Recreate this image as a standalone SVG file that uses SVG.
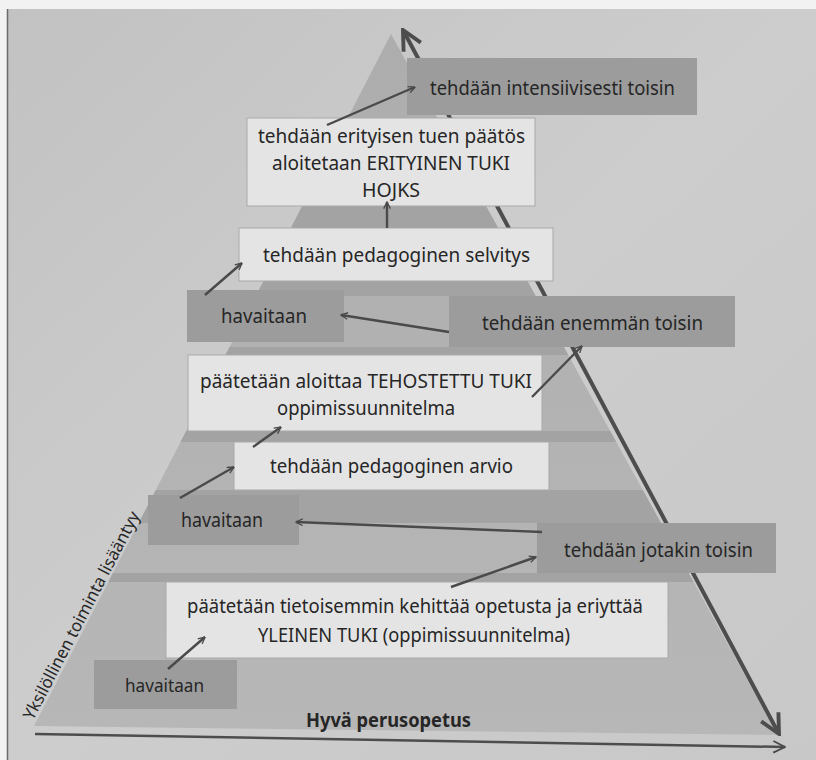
<svg xmlns="http://www.w3.org/2000/svg" width="816" height="760" viewBox="0 0 816 760">
  <style>
    .lbl { font-family: "Noto Sans", "Open Sans", sans-serif; font-size: 20px; fill: #262626; }
    .sm { font-size: 18px; }
    .mid { font-size: 19px; }
    .rot { font-size: 17px; }
    .dark { fill: #9c9c9c; }
    .white { fill: #e4e4e4; stroke: #a9a9a9; stroke-width: 1; }
    .conn { stroke: #4a4a4a; stroke-width: 2.4; fill: none; marker-end: url(#chev); }
    .big { stroke: #4d4d4d; stroke-width: 4; fill: none; }
  </style>
  <defs>
    <linearGradient id="pyr" x1="0" y1="0" x2="0" y2="1">
      <stop offset="0" stop-color="#adadad"/>
      <stop offset="1" stop-color="#b7b7b7"/>
    </linearGradient>
    <linearGradient id="pg" x1="0" y1="0" x2="1" y2="1">
      <stop offset="0" stop-color="#c2c2c2"/>
      <stop offset="0.5" stop-color="#cdcdcd"/>
      <stop offset="1" stop-color="#c8c8c8"/>
    </linearGradient>
    <clipPath id="pyrclip">
      <polygon points="391,34 34,726 778,735"/>
    </clipPath>
    <marker id="chev" viewBox="0 0 12 12" refX="11" refY="6" markerWidth="8" markerHeight="8" markerUnits="userSpaceOnUse" orient="auto">
      <path d="M1,1 L11,6 L1,11" fill="none" stroke="#4a4a4a" stroke-width="2"/>
    </marker>
    <marker id="chevs" viewBox="0 0 12 12" refX="11" refY="6" markerWidth="14" markerHeight="14" markerUnits="userSpaceOnUse" orient="auto">
      <path d="M1,1 L11,6 L1,11" fill="none" stroke="#4a4a4a" stroke-width="1.6"/>
    </marker>
    <marker id="bigh" viewBox="0 0 12 12" refX="11" refY="6" markerWidth="26" markerHeight="26" markerUnits="userSpaceOnUse" orient="auto-start-reverse">
      <path d="M2,1.5 L11,6 L2,10.5" fill="none" stroke="#4d4d4d" stroke-width="1.8"/>
    </marker>
  </defs>

  <!-- page -->
  <rect x="0" y="0" width="816" height="760" fill="#f2f2f2"/>
  <rect x="7" y="9" width="809" height="751" fill="url(#pg)"/>
  <line x1="7.5" y1="9" x2="7.5" y2="760" stroke="#6a6a6a" stroke-width="1.5"/>

  <!-- pyramid -->
  <g id="pyramid">
    <polygon points="391,34 34,726 778,735" fill="url(#pyr)"/>
    <g clip-path="url(#pyrclip)" fill="#a3a3a3">
      <rect x="0" y="206" width="816" height="22"/>
      <rect x="0" y="281" width="816" height="15"/>
      <rect x="0" y="347" width="816" height="8"/>
      <rect x="0" y="431" width="816" height="11"/>
      <rect x="0" y="490" width="816" height="33"/>
      <rect x="0" y="573" width="816" height="9"/>
    </g>
  </g>

  <!-- axes -->
  <g id="axes">
    <line x1="403" y1="30" x2="779" y2="734" class="big" marker-start="url(#bigh)" marker-end="url(#bigh)"/>
    <line x1="35" y1="734" x2="785" y2="747" stroke="#4d4d4d" stroke-width="2.5" marker-end="url(#chevs)"/>
  </g>

  <!-- nodes -->
  <g id="n-intensiivisesti">
    <rect x="407" y="58" width="290" height="57" class="dark"/>
    <text class="lbl" x="430" y="95" textLength="245" lengthAdjust="spacingAndGlyphs">tehdään intensiivisesti toisin</text>
  </g>
  <g id="n-erityinen">
    <rect x="247" y="118" width="288" height="88" class="white"/>
    <text class="lbl" x="258" y="143" textLength="267" lengthAdjust="spacingAndGlyphs">tehdään erityisen tuen päätös</text>
    <text class="lbl" x="272" y="170" textLength="238" lengthAdjust="spacingAndGlyphs">aloitetaan ERITYINEN TUKI</text>
    <text class="lbl" x="362" y="197" textLength="58" lengthAdjust="spacingAndGlyphs">HOJKS</text>
  </g>
  <g id="n-selvitys">
    <rect x="239" y="228" width="314" height="53" class="white"/>
    <text class="lbl" x="263" y="262" textLength="267" lengthAdjust="spacingAndGlyphs">tehdään pedagoginen selvitys</text>
  </g>
  <g id="n-havaitaan-3">
    <rect x="187" y="290" width="157" height="52" class="dark"/>
    <text class="lbl" x="221" y="323" textLength="86" lengthAdjust="spacingAndGlyphs">havaitaan</text>
  </g>
  <g id="n-enemman">
    <rect x="449" y="296" width="286" height="51" class="dark"/>
    <text class="lbl" x="482" y="330" textLength="221" lengthAdjust="spacingAndGlyphs">tehdään enemmän toisin</text>
  </g>
  <g id="n-tehostettu">
    <rect x="188" y="355" width="354" height="76" class="white"/>
    <text class="lbl mid" x="200" y="388" textLength="332" lengthAdjust="spacingAndGlyphs">päätetään aloittaa TEHOSTETTU TUKI</text>
    <text class="lbl mid" x="277" y="415" textLength="178" lengthAdjust="spacingAndGlyphs">oppimissuunnitelma</text>
  </g>
  <g id="n-arvio">
    <rect x="234" y="442" width="315" height="48" class="white"/>
    <text class="lbl" x="270" y="473" textLength="243" lengthAdjust="spacingAndGlyphs">tehdään pedagoginen arvio</text>
  </g>
  <g id="n-havaitaan-2">
    <rect x="148" y="495" width="151" height="50" class="dark"/>
    <text class="lbl" x="181" y="527" textLength="82" lengthAdjust="spacingAndGlyphs">havaitaan</text>
  </g>
  <g id="n-jotakin">
    <rect x="537" y="523" width="239" height="50" class="dark"/>
    <text class="lbl" x="564" y="557" textLength="189" lengthAdjust="spacingAndGlyphs">tehdään jotakin toisin</text>
  </g>
  <g id="n-yleinen">
    <rect x="166" y="582" width="502" height="76" class="white"/>
    <text class="lbl" x="187" y="613" textLength="456" lengthAdjust="spacingAndGlyphs">päätetään tietoisemmin kehittää opetusta ja eriyttää</text>
    <text class="lbl" x="258" y="642" textLength="312" lengthAdjust="spacingAndGlyphs">YLEINEN TUKI (oppimissuunnitelma)</text>
  </g>
  <g id="n-havaitaan-1">
    <rect x="94" y="660" width="143" height="49" class="dark"/>
    <text class="lbl sm" x="125" y="692" textLength="79" lengthAdjust="spacingAndGlyphs">havaitaan</text>
  </g>
  <g id="n-labels">
    <text class="lbl" x="306" y="727" font-weight="bold" font-size="19" textLength="165" lengthAdjust="spacingAndGlyphs">Hyvä perusopetus</text>
    <text class="lbl rot" x="33" y="721" transform="rotate(-62.5 33 721)" textLength="232" lengthAdjust="spacingAndGlyphs">Yksilöllinen toiminta lisääntyy</text>
  </g>

  <!-- connectors -->
  <g id="connectors">
    <line x1="168" y1="669" x2="205" y2="637" class="conn"/>
    <line x1="451" y1="587" x2="536" y2="557" class="conn"/>
    <line x1="542" y1="532" x2="296" y2="522" class="conn"/>
    <line x1="180" y1="498" x2="234" y2="467" class="conn"/>
    <line x1="253" y1="447" x2="281" y2="427" class="conn"/>
    <line x1="532" y1="397" x2="582" y2="346" class="conn"/>
    <line x1="449" y1="332" x2="341" y2="315" class="conn"/>
    <line x1="205" y1="295" x2="242" y2="263" class="conn"/>
    <line x1="387" y1="228" x2="387" y2="202" class="conn"/>
    <line x1="327" y1="125" x2="415" y2="87" class="conn"/>
  </g>
</svg>
